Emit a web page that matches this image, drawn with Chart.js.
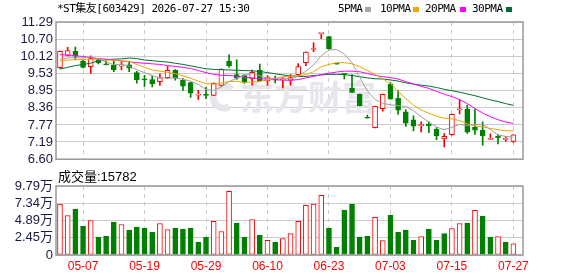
<!DOCTYPE html>
<html>
<head>
<meta charset="utf-8">
<script src="https://cdn.jsdelivr.net/npm/chart.js@4.4.1/dist/chart.umd.min.js"></script>
<style>
body{margin:0;width:578px;height:276px;background:#fff;position:relative;overflow:hidden}
canvas{position:absolute;left:0}
#price{top:0}
#vol{top:170px}
.t{position:absolute;font-family:"DejaVu Sans Mono","Noto Sans CJK SC",monospace;font-size:11px;letter-spacing:-0.5px;white-space:nowrap;color:#000;line-height:12px}
.sq{position:absolute;width:6px;height:5px;top:7px}
.v{position:absolute;font-family:"Liberation Sans","Noto Sans CJK SC",sans-serif;font-size:13px;line-height:14px;color:#000;white-space:nowrap}
</style>
</head>
<body>
<canvas id="price" width="578" height="170"></canvas>
<canvas id="vol" width="578" height="106"></canvas>
<div class="t" style="left:57px;top:3px">*ST集友[603429] 2026-07-27 15:30</div>
<div class="t" style="left:338px;top:3px">5PMA</div><div class="sq" style="left:365px;background:#a5a5a5"></div>
<div class="t" style="left:380px;top:3px">10PMA</div><div class="sq" style="left:413px;background:#f5a300"></div>
<div class="t" style="left:425px;top:3px">20PMA</div><div class="sq" style="left:460px;background:#ff00ff"></div>
<div class="t" style="left:472px;top:3px">30PMA</div><div class="sq" style="left:506px;background:#006e32"></div>
<div class="v" style="left:58px;top:170px">成交量:15782</div>
<script>
// daily data
var dates = ['05-04','05-05','05-06','05-07','05-08','05-11','05-12','05-13','05-14','05-15',
  '05-18','05-19','05-20','05-21','05-22','05-25','05-26','05-27','05-28','05-29',
  '06-01','06-02','06-03','06-04','06-05','06-08','06-09','06-10','06-11','06-12',
  '06-15','06-16','06-17','06-18','06-22','06-23','06-24','06-25','06-26','06-29',
  '06-30','07-01','07-02','07-03','07-06','07-07','07-08','07-09','07-10','07-13',
  '07-14','07-15','07-16','07-17','07-20','07-21','07-22','07-23','07-24','07-27'];
var openP = [9.73,10.15,10.29,9.95,9.76,10.01,9.85,9.82,9.78,9.83,
  9.56,9.33,9.32,9.25,9.39,9.64,9.30,9.22,8.79,8.80,
  8.78,9.12,9.95,9.49,9.47,9.34,9.64,9.28,9.33,9.31,
  9.30,9.49,9.90,10.35,10.89,10.79,9.85,9.52,9.03,8.82,
  8.01,7.68,8.33,9.17,8.68,8.22,7.95,7.75,7.80,7.62,
  7.29,7.44,8.29,8.31,7.70,7.59,7.28,7.39,7.28,7.21];
var highP = [10.30,10.42,10.43,9.98,10.13,10.02,9.96,9.95,9.93,9.95,
  9.60,9.47,9.44,9.52,9.77,9.66,9.36,9.24,8.95,9.06,
  9.21,9.69,10.17,10.00,9.49,9.65,9.85,9.46,9.44,9.38,
  9.49,9.87,10.27,10.58,10.90,10.80,9.85,9.52,9.49,8.83,
  8.11,8.42,8.83,9.22,8.95,8.30,8.08,7.88,7.88,7.68,
  7.48,8.14,8.62,8.45,8.31,7.88,7.47,7.45,7.37,7.44];
var lowP = [9.70,10.13,10.01,9.72,9.53,9.86,9.82,9.59,9.65,9.59,
  9.20,9.09,9.07,9.12,9.35,9.30,8.95,8.71,8.64,8.67,
  8.77,9.10,9.74,9.33,9.19,9.13,9.26,9.12,9.21,9.04,
  9.13,9.42,9.80,10.28,10.72,10.36,9.85,9.34,8.88,8.42,
  8.00,7.67,8.24,8.64,8.13,7.72,7.57,7.53,7.51,7.27,
  7.02,7.42,8.15,7.48,7.45,7.08,7.28,7.12,7.21,7.17];
var closeP = [10.29,10.31,10.12,9.74,10.04,9.90,9.83,9.66,9.80,9.71,
  9.32,9.31,9.17,9.39,9.64,9.37,9.10,8.86,8.81,8.78,
  9.20,9.68,9.80,9.37,9.23,9.57,9.28,9.41,9.30,9.33,
  9.39,9.77,10.26,10.37,10.90,10.37,9.85,9.50,8.88,8.43,
  8.00,8.41,8.82,8.66,8.28,7.83,7.73,7.77,7.75,7.40,
  7.38,8.13,8.31,7.52,7.59,7.40,7.29,7.34,7.30,7.43];
// volume in 万
var volume = [7.22,5.61,6.51,4.09,4.90,2.52,2.66,4.66,4.33,3.52,
  3.95,3.80,3.23,4.47,3.62,3.80,3.66,3.80,1.81,2.52,
  4.76,3.33,9.03,4.52,2.52,5.04,2.81,2.09,1.81,2.34,
  3.05,4.76,7.04,7.22,8.46,3.80,1.10,6.37,7.22,2.52,
  2.66,5.33,2.05,5.66,3.23,3.52,2.09,2.62,3.66,2.09,
  3.05,3.76,4.47,4.52,6.33,5.51,2.52,2.62,1.81,1.58];
var ma5 = [10.02,10.06,10.07,10.06,10.10,10.02,9.93,9.83,9.85,9.78,
  9.66,9.56,9.46,9.38,9.37,9.38,9.33,9.27,9.16,8.98,
  8.95,9.07,9.25,9.37,9.46,9.53,9.45,9.37,9.36,9.38,
  9.34,9.44,9.61,9.82,10.14,10.33,10.35,10.20,9.90,9.41,
  8.93,8.64,8.51,8.46,8.43,8.40,8.26,8.05,7.87,7.70,
  7.61,7.69,7.79,7.75,7.79,7.79,7.62,7.43,7.38,7.35];
var ma10 = [9.96,9.99,10.00,10.01,10.01,10.01,9.99,9.98,9.96,9.94,
  9.84,9.74,9.65,9.61,9.57,9.52,9.45,9.37,9.27,9.18,
  9.16,9.20,9.26,9.26,9.22,9.24,9.26,9.31,9.36,9.42,
  9.44,9.45,9.49,9.59,9.76,9.84,9.90,9.90,9.86,9.77,
  9.63,9.50,9.35,9.18,8.92,8.67,8.45,8.28,8.17,8.07,
  8.00,7.98,7.92,7.81,7.74,7.70,7.65,7.61,7.57,7.57];
var ma20 = [10.17,10.16,10.14,10.11,10.07,10.04,10.02,9.99,9.96,9.93,
  9.90,9.88,9.86,9.84,9.80,9.77,9.74,9.70,9.63,9.56,
  9.50,9.47,9.46,9.44,9.40,9.38,9.35,9.34,9.32,9.30,
  9.30,9.32,9.38,9.43,9.49,9.54,9.58,9.61,9.61,9.59,
  9.53,9.47,9.42,9.39,9.34,9.25,9.17,9.09,9.02,8.92,
  8.82,8.74,8.64,8.50,8.33,8.18,8.05,7.95,7.87,7.82];
var ma30 = [9.68,9.74,9.80,9.84,9.88,9.97,10.00,10.02,10.03,10.06,
  10.04,9.99,9.97,9.94,9.92,9.88,9.84,9.79,9.74,9.69,
  9.67,9.66,9.65,9.64,9.63,9.62,9.60,9.56,9.52,9.48,
  9.45,9.43,9.43,9.46,9.48,9.50,9.50,9.49,9.46,9.42,
  9.38,9.35,9.34,9.31,9.27,9.21,9.17,9.13,9.10,9.05,
  8.99,8.94,8.89,8.83,8.77,8.70,8.63,8.57,8.50,8.44];
var priceTicks = [6.60,7.19,7.77,8.36,8.95,9.53,10.12,10.70,11.29];
var volTicks = [0,2.45,4.89,7.34,9.79];
var labelIdx = [3,11,19,27,35,43,51,59];

var UP = '#ff0000', DOWN = '#008000';
var gridCol = '#cccccc';
var tickFont = {family: '"Liberation Sans","Noto Sans CJK SC",sans-serif', size: 13};

function candleUp(i) {
  if (closeP[i] != openP[i]) return closeP[i] > openP[i];
  return i == 0 || closeP[i] >= closeP[i-1];
}
function volUp(i) {
  return i == 0 ? closeP[0] >= openP[0] : closeP[i] >= closeP[i-1];
}

var frame = {
  id: 'frame',
  beforeDatasetsDraw: function(chart, args, opts) {
    if (!opts.mark) return;
    var ctx = chart.ctx;
    ctx.save();
    ctx.fillStyle = '#e6e6ec';
    ctx.strokeStyle = '#e6e6ec';
    ctx.lineWidth = 7;
    ctx.beginPath();
    ctx.arc(224, 97, 11, 0.35 * Math.PI, 1.75 * Math.PI);
    ctx.stroke();
    ctx.font = 'bold 34px "Noto Sans CJK SC"';
    ctx.textBaseline = 'middle';
    ctx.fillText('东方财富', 240, 97);
    ctx.restore();
  },
  afterDatasetsDraw: function(chart) {
    var a = chart.chartArea, ctx = chart.ctx;
    ctx.save();
    ctx.strokeStyle = '#999999';
    ctx.lineWidth = 1.5;
    ctx.strokeRect(a.left, a.top, a.right - a.left, a.bottom - a.top);
    ctx.restore();
  }
};

function xScale(showLabels) {
  return {
    type: 'linear', min: -0.52, max: 60.25, offset: false,
    afterBuildTicks: function(s) { s.ticks = labelIdx.map(function(v) { return {value: v}; }); },
    afterFit: function(s) { s.height = showLabels ? 21 : 0; },
    grid: {color: gridCol, drawTicks: false, offset: false},
    border: {display: false, dash: [4, 4]},
    ticks: {
      display: showLabels, color: UP, padding: 4, maxRotation: 0, autoSkip: false,
      font: {family: '"Liberation Sans",sans-serif', size: 12},
      callback: function(v) { return dates[v]; }
    }
  };
}

function yScale(lo, hi, list, fmt) {
  return {
    min: lo, max: hi,
    afterBuildTicks: function(s) { s.ticks = list.map(function(v) { return {value: v}; }); },
    afterFit: function(s) { s.width = 56; },
    grid: {color: gridCol, drawTicks: false},
    border: {display: false},
    ticks: {color: '#1a1a40', font: tickFont, padding: 3, autoSkip: false, callback: fmt}
  };
}

var pts = function(arr) { return arr.map(function(v, i) { return {x: i, y: v}; }); };
function maLine(arr, color) {
  return {type: 'line', data: pts(arr), borderColor: color, borderWidth: 1, pointRadius: 0, tension: 0, order: 0};
}

new Chart(document.getElementById('price'), {
  type: 'bar',
  data: {
    datasets: [
      maLine(ma5, '#a0a0a0'),
      maLine(ma10, '#f5a300'),
      maLine(ma20, '#ff00ff'),
      maLine(ma30, '#006e32'),
      {
        data: dates.map(function(d, i) { return {x: i, y: [openP[i], closeP[i]]}; }),
        backgroundColor: dates.map(function(d, i) { return candleUp(i) ? '#ffffff' : DOWN; }),
        borderColor: dates.map(function(d, i) { return candleUp(i) ? UP : DOWN; }),
        borderWidth: 1, borderSkipped: false, barThickness: 5, minBarLength: 1,
        grouped: false, order: 1
      },
      {
        data: dates.map(function(d, i) { return {x: i, y: [lowP[i], highP[i]]}; }),
        backgroundColor: dates.map(function(d, i) { return candleUp(i) ? UP : DOWN; }),
        borderWidth: 0, barThickness: 1, grouped: false, order: 2
      }
    ]
  },
  options: {
    responsive: false, animation: false, devicePixelRatio: 1,
    layout: {padding: {left: 0, right: 55, top: 22, bottom: 5}},
    plugins: {legend: {display: false}, tooltip: {enabled: false}, frame: {mark: true}},
    scales: {
      x: xScale(false),
      y: yScale(6.60, 11.29, priceTicks, function(v) { return v.toFixed(2); })
    }
  },
  plugins: [frame]
});

new Chart(document.getElementById('vol'), {
  type: 'bar',
  data: {
    datasets: [{
      data: pts(volume),
      backgroundColor: volume.map(function(v, i) { return volUp(i) ? '#ffffff' : DOWN; }),
      borderColor: volume.map(function(v, i) { return volUp(i) ? UP : DOWN; }),
      borderWidth: 1, borderSkipped: false, barThickness: 5, grouped: false
    }]
  },
  options: {
    responsive: false, animation: false, devicePixelRatio: 1,
    layout: {padding: {left: 0, right: 55, top: 16, bottom: 0}},
    plugins: {legend: {display: false}, tooltip: {enabled: false}, frame: {mark: false}},
    scales: {
      x: xScale(true),
      y: yScale(0, 9.79, volTicks, function(v) { return v == 0 ? '0' : v.toFixed(2) + '万'; })
    }
  },
  plugins: [frame]
});
</script>
</body>
</html>
